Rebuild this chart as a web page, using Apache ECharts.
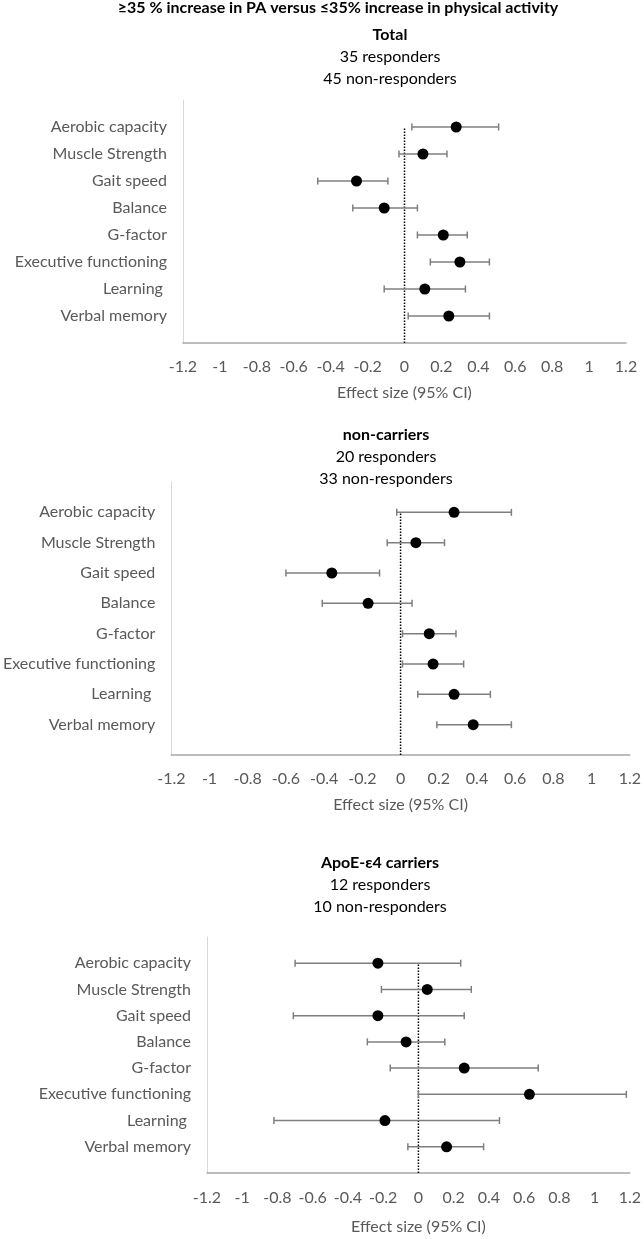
<!DOCTYPE html>
<html><head><meta charset="utf-8">
<script src="https://cdn.jsdelivr.net/npm/echarts@6/dist/echarts.min.js"></script>
<style>html,body{margin:0;padding:0;background:#fff}#c{width:644px;height:1239px}</style>
</head><body><div id="c"></div>
<script>
// ---- data ----
const categories = ['Aerobic capacity','Muscle Strength','Gait speed','Balance','G-factor','Executive functioning','Learning ','Verbal memory'];
const xMin = -1.2, xMax = 1.2, xStep = 0.2;
const axisTitle = 'Effect size (95% CI)';
const mainTitle = '\u226535 % increase in PA versus \u226435% increase in physical activity';

const panelTitles = ['Total', 'non-carriers', 'ApoE-\u03b54 carriers'];
const panelResponders = ['35 responders', '20 responders', '12 responders'];
const panelNonResponders = ['45 non-responders', '33 non-responders', '10 non-responders'];

const totalEst  = [0.28, 0.10, -0.26, -0.11, 0.21, 0.30, 0.11, 0.24];
const totalLow  = [0.04, -0.03, -0.47, -0.28, 0.07, 0.14, -0.11, 0.02];
const totalHigh = [0.51, 0.23, -0.09, 0.07, 0.34, 0.46, 0.33, 0.46];

const nonEst  = [0.28, 0.08, -0.36, -0.17, 0.15, 0.17, 0.28, 0.38];
const nonLow  = [-0.02, -0.07, -0.60, -0.41, 0.01, 0.01, 0.09, 0.19];
const nonHigh = [0.58, 0.23, -0.11, 0.06, 0.29, 0.33, 0.47, 0.58];

const apoeEst  = [-0.23, 0.05, -0.23, -0.07, 0.26, 0.63, -0.19, 0.16];
const apoeLow  = [-0.70, -0.21, -0.71, -0.29, -0.16, 0.00, -0.82, -0.06];
const apoeHigh = [0.24, 0.30, 0.26, 0.15, 0.68, 1.18, 0.46, 0.37];

// ---- chart ----
const FONT = 'Lato, "Open Sans", sans-serif';
const TXT = '#595959';
const n = categories.length;
const yPos = i => n - i;  // top category highest

const panels = [
  {est: totalEst, low: totalLow, high: totalHigh, grid: {left: 183, top: 100, width: 443, height: 243}, tx: 390, ty: 35, lm: 16, ng: 42},
  {est: nonEst,   low: nonLow,   high: nonHigh,   grid: {left: 170, top: 482, width: 463, height: 273}, tx: 386, ty: 435, lm: 16, ng: 42},
  {est: apoeEst,  low: apoeLow,  high: apoeHigh,  grid: {left: 207, top: 937, width: 426, height: 236}, tx: 380, ty: 863, lm: 17, ng: 46}
];

const grid = [], xAxis = [], yAxis = [], series = [], graphic = [];
graphic.push({type: 'text', x: 338, y: 8, style: {text: mainTitle, font: 'bold 16px ' + FONT, fill: '#000', textAlign: 'center', textVerticalAlign: 'middle'}});

panels.forEach((p, k) => {
  grid.push(Object.assign({containLabel: false}, p.grid));
  xAxis.push({
    type: 'value', gridIndex: k, min: xMin, max: xMax, interval: xStep,
    axisLine: {show: true, lineStyle: {color: '#a6a6a6', width: 1.5}},
    axisTick: {show: false}, splitLine: {show: false},
    axisLabel: {color: TXT, fontSize: 16, fontFamily: FONT, margin: p.lm,
      formatter: v => String(Math.round(v * 10) / 10)},
    name: axisTitle, nameLocation: 'middle', nameGap: p.ng,
    nameTextStyle: {color: TXT, fontSize: 16, fontFamily: FONT}
  });
  yAxis.push({
    type: 'value', gridIndex: k, min: 0, max: n + 1, interval: 1,
    axisLine: {show: true, onZero: false, lineStyle: {color: '#d9d9d9', width: 1}},
    axisTick: {show: false}, splitLine: {show: false},
    axisLabel: {color: TXT, fontSize: 16, fontFamily: FONT, margin: 16,
      formatter: v => (v >= 1 && v <= n) ? categories[n - v] : ''}
  });
  // zero reference line
  series.push({
    type: 'line', xAxisIndex: k, yAxisIndex: k, data: [[0, 0], [0, n]],
    symbol: 'none', silent: true, z: 1,
    lineStyle: {color: '#000', width: 1.5, type: [1.5, 1.5]}
  });
  // CI bars
  series.push({
    type: 'custom', xAxisIndex: k, yAxisIndex: k, z: 2,
    data: categories.map((c, i) => [p.low[i], p.high[i], yPos(i)]),
    renderItem: (params, api) => {
      const a = api.coord([api.value(0), api.value(2)]);
      const b = api.coord([api.value(1), api.value(2)]);
      const h = 3.5;
      const st = {stroke: '#7f7f7f', lineWidth: 1.5};
      return {type: 'group', children: [
        {type: 'line', shape: {x1: a[0], y1: a[1], x2: b[0], y2: b[1]}, style: st},
        {type: 'line', shape: {x1: a[0], y1: a[1] - h, x2: a[0], y2: a[1] + h}, style: st},
        {type: 'line', shape: {x1: b[0], y1: b[1] - h, x2: b[0], y2: b[1] + h}, style: st}
      ]};
    }
  });
  // point estimates
  series.push({
    type: 'scatter', xAxisIndex: k, yAxisIndex: k, z: 3,
    data: categories.map((c, i) => [p.est[i], yPos(i)]),
    symbol: 'circle', symbolSize: 11, itemStyle: {color: '#000', opacity: 1}
  });
  graphic.push({type: 'text', x: p.tx, y: p.ty, style: {text: panelTitles[k], font: 'bold 16px ' + FONT, fill: '#000', textAlign: 'center', textVerticalAlign: 'middle'}});
  graphic.push({type: 'text', x: p.tx, y: p.ty + 22, style: {text: panelResponders[k], font: '16px ' + FONT, fill: '#000', textAlign: 'center', textVerticalAlign: 'middle'}});
  graphic.push({type: 'text', x: p.tx, y: p.ty + 44, style: {text: panelNonResponders[k], font: '16px ' + FONT, fill: '#000', textAlign: 'center', textVerticalAlign: 'middle'}});
});

const chart = echarts.init(document.getElementById('c'), null, {renderer: 'canvas'});
chart.setOption({animation: false, backgroundColor: '#fff', grid, xAxis, yAxis, series, graphic});
</script>
</body></html>
